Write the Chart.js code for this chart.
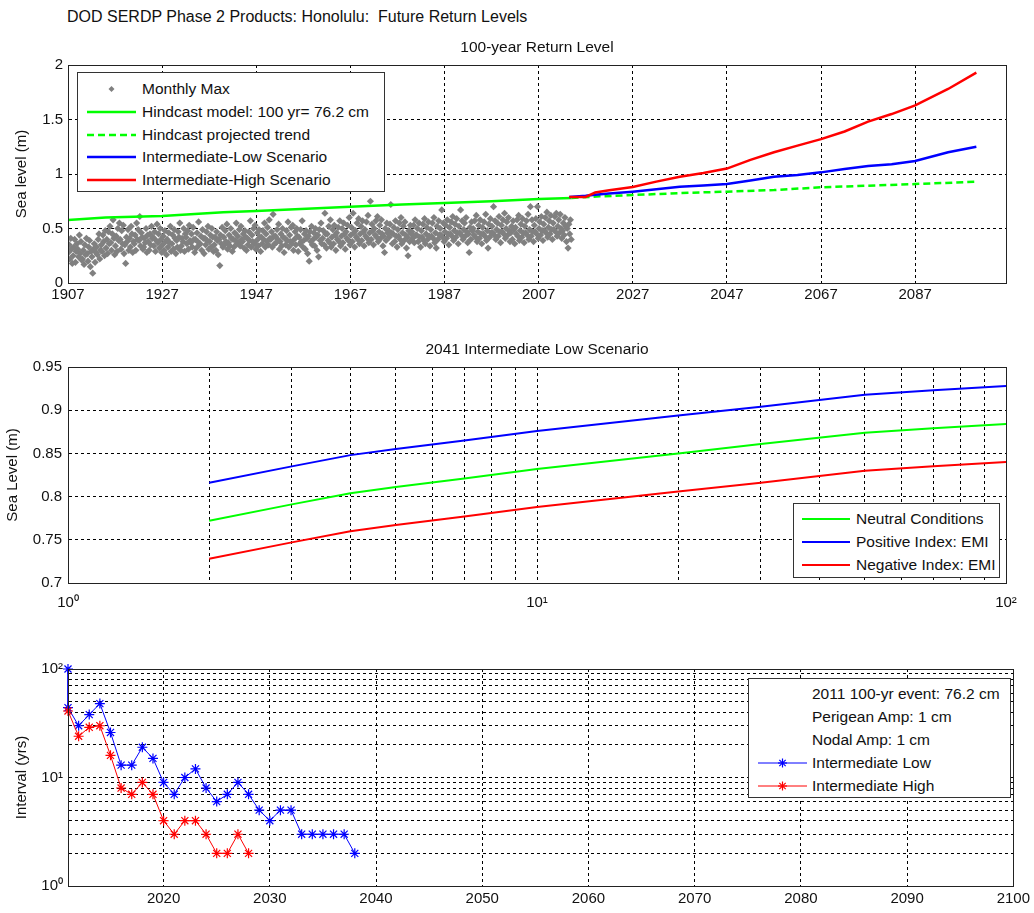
<!DOCTYPE html>
<html>
<head>
<meta charset="utf-8">
<script src="https://cdn.jsdelivr.net/npm/chart.js@4.4.1/dist/chart.umd.min.js"></script>
<style>
  body { margin: 0; background: #fff; font-family: 'Liberation Sans', Arial, sans-serif; }
  #page { position: relative; width: 1034px; height: 913px; overflow: hidden; background: #fff; }
  canvas { position: absolute; left: 0; }
  .maintitle { position: absolute; left: 67px; top: 8px; font-size: 16px; line-height: 18px; color: #111; white-space: pre; }
  .subtitle { position: absolute; left: 68px; width: 938px; text-align: center; font-size: 15.5px; line-height: 18px; color: #111; }
  .legend { position: absolute; background: #fff; border: 1px solid #333; box-sizing: border-box; font-size: 15.5px; color: #111; }
  .legend .row { position: absolute; left: 0; right: 0; height: 22px; line-height: 22px; white-space: nowrap; }
  .legend .row span { position: absolute; top: 0; }
  .legend .row svg { position: absolute; top: 0; }
</style>
</head>
<body>
<div id="page">
  <div class="maintitle">DOD SERDP Phase 2 Products: Honolulu:  Future Return Levels</div>
  <canvas id="topChart" width="1034" height="315" style="top:0px"></canvas>
  <canvas id="midChart" width="1034" height="305" style="top:315px"></canvas>
  <canvas id="botChart" width="1034" height="293" style="top:620px"></canvas>
  <div class="subtitle" style="top:38px">100-year Return Level</div>
  <div class="subtitle" style="top:340px">2041 Intermediate Low Scenario</div>
  <div class="legend" id="topLegend" style="left:77px;top:72px;width:308px;height:120px"></div>
  <div class="legend" id="midLegend" style="left:793px;top:503px;width:207px;height:75px"></div>
  <div class="legend" id="botLegend" style="left:748px;top:678px;width:263px;height:120px"></div>
</div>
<script>
// ---- top panel: 100-year return level ----
const hindYears = [1907, 1915, 1927, 1940, 1947, 1960, 1967, 1978, 1987, 1997, 2007, 2014];
const hindLevel = [0.578, 0.60, 0.615, 0.65, 0.66, 0.685, 0.70, 0.72, 0.735, 0.75, 0.77, 0.78];
const trendYears = [2014, 2020, 2027, 2037, 2047, 2057, 2067, 2077, 2087, 2100];
const trendLevel = [0.78, 0.795, 0.807, 0.825, 0.838, 0.853, 0.878, 0.893, 0.908, 0.929];
const scenYears = [2013.5, 2017, 2019, 2022, 2027, 2032, 2037, 2042, 2047, 2052, 2057, 2062, 2067, 2072, 2077, 2082, 2087, 2094, 2100];
const intLowLevel = [0.79, 0.80, 0.81, 0.82, 0.838, 0.86, 0.884, 0.895, 0.908, 0.94, 0.975, 0.99, 1.015, 1.045, 1.073, 1.09, 1.12, 1.20, 1.25];
const intHighLevel = [0.79, 0.79, 0.83, 0.85, 0.88, 0.93, 0.975, 1.01, 1.05, 1.13, 1.20, 1.26, 1.32, 1.39, 1.48, 1.55, 1.63, 1.78, 1.93];
const topYearTicks = [1907, 1927, 1947, 1967, 1987, 2007, 2027, 2047, 2067, 2087];
const topLevelTicks = [0, 0.5, 1, 1.5, 2];

// monthly maxima (cm), six samples read per year, 1907..2013
const maxFirstYear = 1907;
const monthlyMaxCm = [
  [28,35,22,41,31,18],[25,33,40,19,29,36],[31,24,44,27,38,21],[22,30,17,35,26,41],[27,20,33,39,15,29],
  [24,9,31,36,19,28],[33,26,40,45,22,30],[35,29,44,38,25,48],[32,40,27,47,36,52],[37,30,45,58,41,26],
  [34,43,29,50,39,55],[40,31,48,36,53,27],[35,18,42,38,49,30],[41,33,52,45,28,38],[36,44,30,55,40,49],
  [39,61,34,46,42,31],[33,41,37,50,28,44],[38,30,45,35,52,41],[42,34,47,29,39,54],[37,45,32,50,40,28],
  [35,43,30,48,38,26],[40,33,46,37,52,29],[36,44,31,49,41,27],[39,33,47,42,55,30],[34,41,38,50,29,45],
  [42,36,48,31,53,39],[37,45,33,51,40,28],[40,32,46,38,56,35],[36,43,30,49,41,27],[41,35,47,39,52,31],
  [38,44,33,50,42,29],[35,42,30,47,39,26],[40,16,44,36,51,33],[42,35,48,38,54,31],[37,44,34,50,41,29],
  [40,33,46,39,55,36],[43,37,49,34,52,40],[38,45,32,48,42,30],[41,35,47,39,57,33],[44,38,50,36,53,31],
  [39,46,34,49,42,29],[42,36,48,40,55,33],[45,38,51,35,58,41],[40,47,33,63,43,36],[43,37,49,40,54,31],
  [38,45,34,50,42,28],[41,35,48,39,56,33],[44,38,51,36,53,30],[40,47,35,50,43,29],[42,36,49,38,57,33],
  [39,45,31,48,41,27],[43,20,47,38,52,35],[40,46,34,50,42,30],[44,24,49,39,55,36],[41,48,35,64,45,32],
  [45,39,52,37,58,33],[42,49,36,53,44,30],[46,40,51,38,57,34],[43,50,37,55,45,31],[47,41,53,39,60,35],
  [44,51,38,64,46,33],[48,42,55,40,59,36],[45,52,39,57,47,34],[49,43,56,41,62,37],[46,75,40,54,48,35],
  [50,44,57,42,61,38],[47,53,41,58,45,34],[43,28,50,39,55,46],[48,42,54,72,46,36],[45,51,38,57,43,33],
  [49,43,55,40,60,36],[46,52,39,56,44,32],[42,25,48,38,53,45],[47,41,53,37,58,44],[44,50,38,55,42,33],
  [48,42,54,39,59,36],[45,51,40,56,43,34],[49,43,55,41,60,37],[46,32,52,40,57,44],[50,44,67,42,55,38],
  [47,53,41,58,45,35],[51,45,56,43,61,39],[48,54,42,59,46,36],[52,46,67,44,57,40],[49,55,43,60,47,37],
  [45,28,51,40,56,48],[50,44,57,42,62,38],[47,53,41,58,45,36],[51,45,56,43,63,39],[48,32,54,42,59,46],
  [52,46,70,44,57,40],[49,55,43,61,47,37],[53,47,58,45,64,41],[50,56,44,60,48,38],[46,52,40,57,49,36],
  [51,45,58,43,62,39],[48,54,42,59,46,37],[52,46,57,44,63,40],[49,70,43,58,47,38],[53,47,59,45,70,41],
  [50,56,44,61,48,39],[54,48,60,46,65,42],[51,57,45,62,49,40],[55,49,61,47,64,43],[52,58,46,63,50,41],
  [48,55,44,60,52,38],[50,32,54,45,58,40]
];

// ---- middle panel: 2041 intermediate low scenario ----
const returnPeriod = [2, 3, 4, 5, 7, 10, 20, 30, 50, 70, 100];
const neutralLevel = [0.772, 0.791, 0.804, 0.811, 0.821, 0.832, 0.850, 0.861, 0.874, 0.879, 0.884];
const positiveLevel = [0.816, 0.835, 0.848, 0.855, 0.865, 0.876, 0.894, 0.904, 0.918, 0.923, 0.928];
const negativeLevel = [0.728, 0.747, 0.760, 0.767, 0.777, 0.788, 0.806, 0.816, 0.830, 0.835, 0.840];
const midPeriodTicks = [1, 2, 3, 4, 5, 6, 7, 8, 9, 10, 20, 30, 40, 50, 60, 70, 80, 90, 100];
const midLevelTicks = [0.7, 0.75, 0.8, 0.85, 0.9, 0.95];

// ---- bottom panel: recurrence interval of the 2011 100-yr event ----
const lowYears = [2011, 2011, 2012, 2013, 2014, 2015, 2016, 2017, 2018, 2019, 2020, 2021, 2022, 2023, 2024,
  2025, 2026, 2027, 2028, 2029, 2030, 2031, 2032, 2033, 2034, 2035, 2036, 2037, 2038];
const lowInterval = [100, 44, 30, 38, 48, 26, 13, 13, 19, 15, 9, 7, 10, 12, 8,
  6, 7, 9, 7, 5, 4, 5, 5, 3, 3, 3, 3, 3, 2];
const highYears = [2011, 2012, 2013, 2014, 2015, 2016, 2017, 2018, 2019, 2020, 2021, 2022, 2023, 2024, 2025, 2026, 2027, 2028];
const highInterval = [41, 24, 29, 30, 16, 8, 7, 9, 7, 4, 3, 4, 4, 3, 2, 2, 3, 2];
const botYearTicks = [2020, 2030, 2040, 2050, 2060, 2070, 2080, 2090, 2100];
const botIntervalTicks = [1, 2, 3, 4, 5, 6, 7, 8, 9, 10, 20, 30, 40, 50, 60, 70, 80, 90, 100];
const powerLabels = { 1: '10\u2070', 10: '10\u00b9', 100: '10\u00b2' };

Chart.defaults.font.family = "'Liberation Sans', Arial, sans-serif";
Chart.defaults.font.size = 15;
Chart.defaults.color = '#111';
Chart.defaults.animation = false;
Chart.defaults.events = [];
Chart.defaults.plugins.legend.display = false;
Chart.defaults.plugins.tooltip.enabled = false;

const pts = (xs, ys) => xs.map((x, i) => ({ x: x, y: ys[i] }));

const monthlyPoints = [];
monthlyMaxCm.forEach((row, yi) => {
  row.forEach((cm, k) => {
    monthlyPoints.push({ x: maxFirstYear + yi + (k + 0.5) / row.length, y: cm / 100 });
  });
});

// box round the plot area, like matlab axes
const frame = {
  id: 'frame',
  afterDraw(chart) {
    const a = chart.chartArea;
    const ctx = chart.ctx;
    ctx.save();
    ctx.strokeStyle = '#222';
    ctx.lineWidth = 1;
    ctx.setLineDash([]);
    ctx.strokeRect(Math.round(a.left) + 0.5, Math.round(a.top) + 0.5, Math.round(a.right - a.left), Math.round(a.bottom - a.top));
    ctx.restore();
  }
};

const gridOpts = { color: '#000', lineWidth: 1, drawTicks: false };
const borderOpts = { display: true, color: '#222', dash: [3, 3] };
const useTicks = list => scale => { scale.ticks = list.map(v => ({ value: v })); };

function lineSet(label, xs, ys, color, width, order, extra) {
  return Object.assign({
    label: label, data: pts(xs, ys), showLine: true, borderColor: color, backgroundColor: color,
    borderWidth: width, pointRadius: 0, tension: 0, order: order
  }, extra || {});
}

const topChart = new Chart(document.getElementById('topChart'), {
  type: 'scatter',
  data: {
    datasets: [
      lineSet('Intermediate-High Scenario', scenYears, intHighLevel, '#ff0000', 2.5, 0),
      lineSet('Intermediate-Low Scenario', scenYears, intLowLevel, '#0000ff', 2.5, 1),
      lineSet('Hindcast projected trend', trendYears, trendLevel, '#00ff00', 2.5, 2, { borderDash: [7, 4] }),
      lineSet('Hindcast model: 100 yr= 76.2 cm', hindYears, hindLevel, '#00ff00', 2.5, 3),
      {
        label: 'Monthly Max', data: monthlyPoints, showLine: false, pointStyle: 'rectRot', pointRadius: 3.6,
        backgroundColor: '#808080', borderColor: '#808080', borderWidth: 0, order: 4
      }
    ]
  },
  options: {
    responsive: false,
    layout: { padding: { left: 0, right: 28, top: 65, bottom: 0 } },
    scales: {
      x: {
        type: 'linear', min: 1907, max: 2106.3,
        afterBuildTicks: useTicks(topYearTicks),
        afterFit: s => { s.height = 32; },
        ticks: { padding: 3, autoSkip: false, maxRotation: 0, callback: v => String(v) },
        grid: gridOpts, border: borderOpts
      },
      y: {
        min: 0, max: 2,
        afterBuildTicks: useTicks(topLevelTicks),
        afterFit: s => { s.width = 68; },
        ticks: { padding: 5, callback: v => String(v) },
        grid: gridOpts, border: borderOpts,
        title: { display: true, text: 'Sea level (m)', color: '#111', padding: { top: 13, bottom: 0 } }
      }
    }
  },
  plugins: [frame]
});

const midChart = new Chart(document.getElementById('midChart'), {
  type: 'scatter',
  data: {
    datasets: [
      lineSet('Negative Index: EMI', returnPeriod, negativeLevel, '#ff0000', 2, 0),
      lineSet('Positive Index: EMI', returnPeriod, positiveLevel, '#0000ff', 2, 1),
      lineSet('Neutral Conditions', returnPeriod, neutralLevel, '#00ff00', 2, 2)
    ]
  },
  options: {
    responsive: false,
    layout: { padding: { left: 0, right: 28, top: 52, bottom: 0 } },
    scales: {
      x: {
        type: 'logarithmic', min: 1, max: 100,
        afterBuildTicks: useTicks(midPeriodTicks),
        afterFit: s => { s.height = 37; },
        ticks: { padding: 11, autoSkip: false, maxRotation: 0, callback: v => powerLabels[v] || '' },
        grid: gridOpts, border: borderOpts
      },
      y: {
        min: 0.7, max: 0.95,
        afterBuildTicks: useTicks(midLevelTicks),
        afterFit: s => { s.width = 68; },
        ticks: { padding: 6, callback: v => String(v) },
        grid: gridOpts, border: borderOpts,
        title: { display: true, text: 'Sea Level (m)', color: '#111', padding: { top: 4, bottom: 0 } }
      }
    }
  },
  plugins: [frame]
});

const starOpts = color => ({ pointStyle: 'star', pointRadius: 5, pointBorderWidth: 1.2, pointBorderColor: color, clip: false });

const botChart = new Chart(document.getElementById('botChart'), {
  type: 'scatter',
  data: {
    datasets: [
      lineSet('Intermediate High', highYears, highInterval, '#ff0000', 1, 0, starOpts('#ff0000')),
      lineSet('Intermediate Low', lowYears, lowInterval, '#0000ff', 1, 1, starOpts('#0000ff'))
    ]
  },
  options: {
    responsive: false,
    layout: { padding: { left: 0, right: 17, top: 49, bottom: 0 } },
    scales: {
      x: {
        type: 'linear', min: 2011, max: 2100,
        afterBuildTicks: useTicks(botYearTicks),
        afterFit: s => { s.height = 27; },
        ticks: { padding: 4, autoSkip: false, maxRotation: 0, callback: v => String(v) },
        grid: gridOpts, border: borderOpts
      },
      y: {
        type: 'logarithmic', min: 1, max: 100,
        afterBuildTicks: useTicks(botIntervalTicks),
        afterFit: s => { s.width = 68; },
        ticks: { padding: 5, autoSkip: false, callback: v => powerLabels[v] || '' },
        grid: gridOpts, border: borderOpts,
        title: { display: true, text: 'Interval (yrs)', color: '#111', padding: { top: 13, bottom: 0 } }
      }
    }
  },
  plugins: [frame]
});

// ---- html legends, entries taken from the chart datasets ----
function swatch(item, x, w) {
  let s = '<svg width="' + w + '" height="22" style="left:' + x + 'px">';
  if (item.line) {
    s += '<line x1="0" y1="11" x2="' + w + '" y2="11" stroke="' + item.color + '" stroke-width="' + item.width + '"' +
      (item.dash ? ' stroke-dasharray="' + item.dash + '"' : '') + '/>';
  }
  const c = w / 2;
  if (item.marker === 'diamond') {
    s += '<polygon points="' + c + ',8 ' + (c + 3) + ',11 ' + c + ',14 ' + (c - 3) + ',11" fill="' + item.color + '"/>';
  } else if (item.marker === 'star') {
    const r = 4.5, d = r * 0.7071;
    s += '<g stroke="' + item.color + '" stroke-width="1.2">' +
      '<line x1="' + (c - r) + '" y1="11" x2="' + (c + r) + '" y2="11"/>' +
      '<line x1="' + c + '" y1="' + (11 - r) + '" x2="' + c + '" y2="' + (11 + r) + '"/>' +
      '<line x1="' + (c - d) + '" y1="' + (11 - d) + '" x2="' + (c + d) + '" y2="' + (11 + d) + '"/>' +
      '<line x1="' + (c - d) + '" y1="' + (11 + d) + '" x2="' + (c + d) + '" y2="' + (11 - d) + '"/></g>';
  }
  return s + '</svg>';
}

function buildLegend(id, items, first, step, swX, swW, textX) {
  const box = document.getElementById(id);
  items.forEach((item, i) => {
    const row = document.createElement('div');
    row.className = 'row';
    row.style.top = (first + i * step - 11) + 'px';
    row.innerHTML = (item.color ? swatch(item, swX, swW) : '') +
      '<span style="left:' + textX + 'px">' + item.label + '</span>';
    box.appendChild(row);
  });
}

const fromSet = (chart, idx, marker) => {
  const d = chart.data.datasets[idx];
  return {
    label: d.label, color: d.borderColor, width: d.borderWidth, line: d.showLine !== false,
    dash: d.borderDash ? d.borderDash.join(',') : null, marker: marker
  };
};

buildLegend('topLegend', [
  fromSet(topChart, 4, 'diamond'),
  fromSet(topChart, 3), fromSet(topChart, 2), fromSet(topChart, 1), fromSet(topChart, 0)
], 16, 22.8, 9, 49, 64);

buildLegend('midLegend', [fromSet(midChart, 2), fromSet(midChart, 1), fromSet(midChart, 0)], 15, 23, 8, 48, 62);

buildLegend('botLegend', [
  { label: '2011 100-yr event: 76.2 cm' },
  { label: 'Perigean Amp: 1 cm' },
  { label: 'Nodal Amp: 1 cm' },
  fromSet(botChart, 1, 'star'),
  fromSet(botChart, 0, 'star')
], 15, 23, 9, 49, 63);
</script>
</body>
</html>
